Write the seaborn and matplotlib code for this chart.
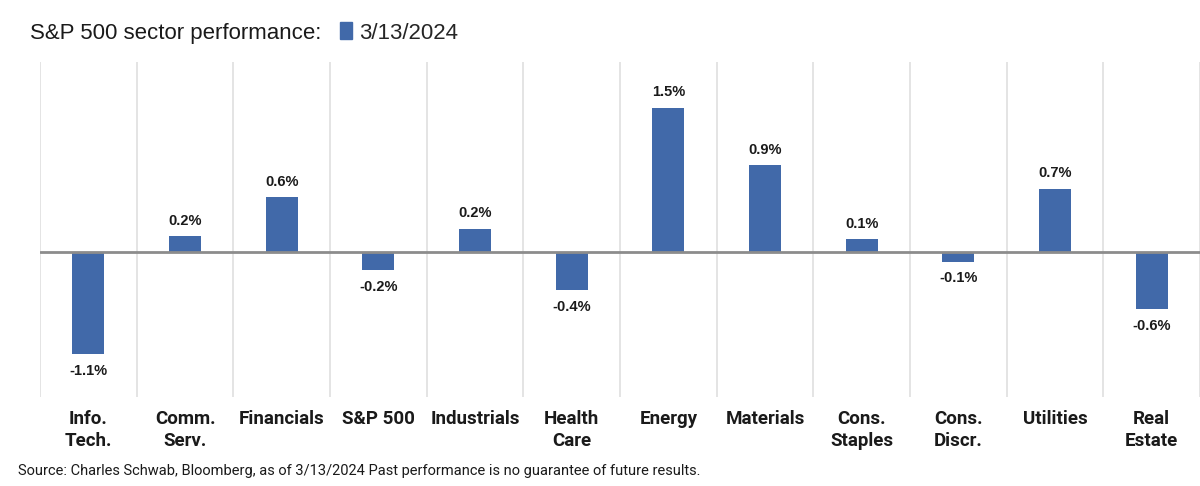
import matplotlib
matplotlib.use("Agg")
import matplotlib.pyplot as plt
from matplotlib.patches import Patch
import seaborn as sns
import pandas as pd

categories = ["Info.\nTech.", "Comm.\nServ.", "Financials", "S&P 500", "Industrials",
              "Health\nCare", "Energy", "Materials", "Cons.\nStaples", "Cons.\nDiscr.",
              "Utilities", "Real\nEstate"]
values = [-1.05, 0.16, 0.56, -0.19, 0.24, -0.39, 1.48, 0.89, 0.13, -0.10, 0.65, -0.59]
value_labels = ["-1.1%", "0.2%", "0.6%", "-0.2%", "0.2%", "-0.4%", "1.5%", "0.9%",
                "0.1%", "-0.1%", "0.7%", "-0.6%"]
series_name = "3/13/2024"
title = "S&P 500 sector performance:"
source = "Source: Charles Schwab, Bloomberg, as of 3/13/2024 Past performance is no guarantee of future results."

bar_color = "#4169A9"

sns.set_theme(style="white")
plt.rcParams['font.family'] = ['Liberation Sans', 'DejaVu Sans']

df = pd.DataFrame({"sector": categories, "value": values})

fig = plt.figure(figsize=(12, 4.86), dpi=100)
ax = fig.add_axes([40/1200, 1-397/486, 1-40/1200, (397-62)/486])

sns.barplot(data=df, x="sector", y="value", color=bar_color, width=0.33,
            saturation=1, linewidth=0, ax=ax)

ax.set_xlim(-0.5, len(categories) - 0.5)
ax.set_ylim(-1.49, 1.95)

# category separators
for i in range(len(categories) + 1):
    ax.axvline(i - 0.5, color="#dcdcdc", lw=1.1, zorder=0)
ax.axhline(0, color="#8c8c8c", lw=2, zorder=3)

for s in ax.spines.values():
    s.set_visible(False)
ax.set_yticks([])
ax.set_xlabel("")
ax.set_ylabel("")
ax.tick_params(axis="x", length=0, pad=9)
ax.set_xticks(range(len(categories)))
ax.set_xticklabels(categories, fontsize=13.5, fontweight="bold",
                   family=['Roboto', 'DejaVu Sans'],
                   linespacing=1.3, va="top", color="#1a1a1a")

for i, (v, lab) in enumerate(zip(values, value_labels)):
    if v >= 0:
        ax.annotate(lab, (i, v), xytext=(0, 6), textcoords="offset points",
                    ha="center", va="bottom", fontsize=10.5, fontweight="bold",
                    color="#1a1a1a")
    else:
        ax.annotate(lab, (i, v), xytext=(0, -7), textcoords="offset points",
                    ha="center", va="top", fontsize=10.5, fontweight="bold",
                    color="#1a1a1a")

fig.text(30/1200, 1-33/486, title, fontsize=16, va="center", ha="left", color="#1a1a1a")
fig.legend(handles=[Patch(facecolor=bar_color, edgecolor=bar_color)], labels=[series_name],
           loc="center left", bbox_to_anchor=(340/1200, 1-33/486), frameon=False,
           handlelength=0.55, handleheight=0.8, handletextpad=0.3, fontsize=16,
           borderpad=0, borderaxespad=0)
fig.text(18/1200, 1-471/486, source, fontsize=10.5, va="center", ha="left",
         family=['Roboto', 'DejaVu Sans'], color="#1a1a1a")

fig.savefig("out.png", dpi=100)
